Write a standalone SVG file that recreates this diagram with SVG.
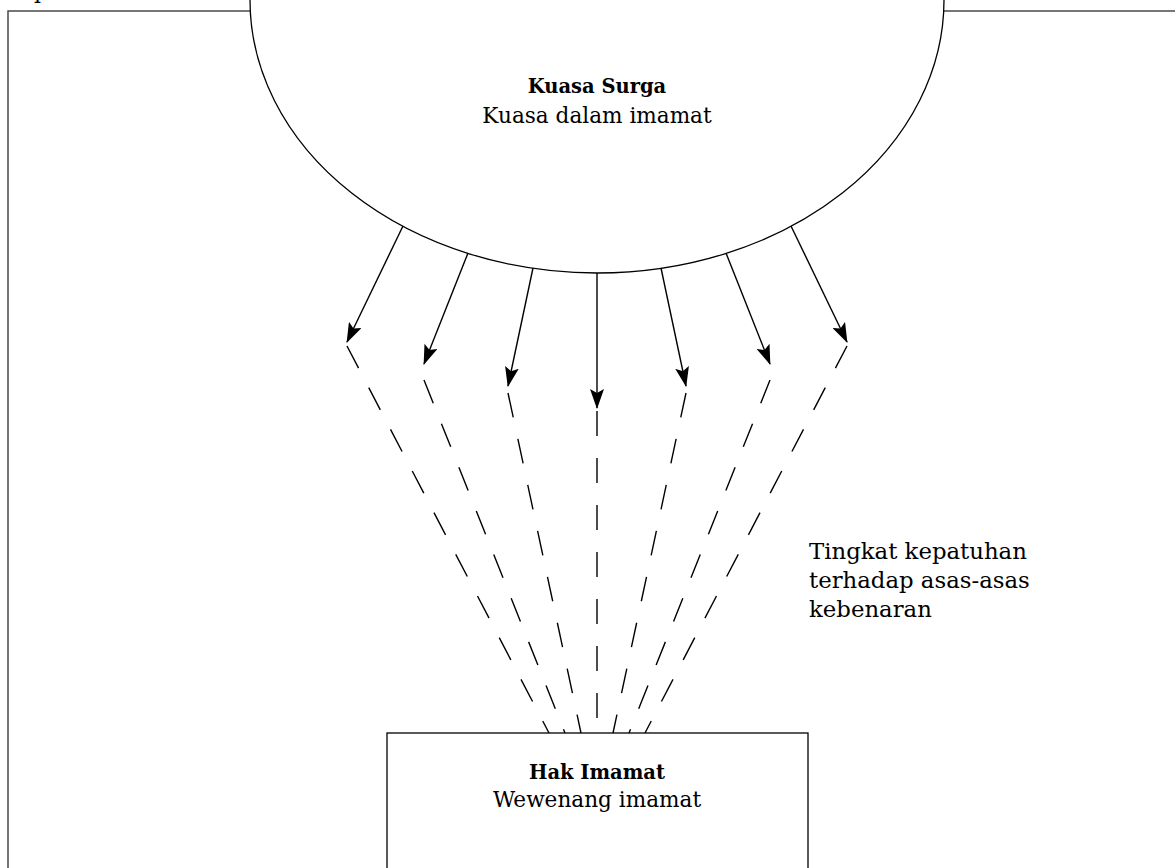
<svg xmlns="http://www.w3.org/2000/svg" width="1175" height="868" viewBox="0 0 1175 868">
  <style>
    .frame { fill: none; stroke: #4a4a4a; stroke-width: 1.5; }
    .node { fill: #ffffff; stroke: #000000; stroke-width: 1.3; }
    .ray { fill: none; stroke: #000000; stroke-width: 1.4; marker-end: url(#head); }
    .dash { fill: none; stroke: #000000; stroke-width: 1.4; stroke-dasharray: 25 22; }
    text { font-family: "DejaVu Serif", "Liberation Serif", serif; fill: #000000; }
    .title { font-weight: bold; font-size: 19.5px; text-anchor: middle; }
    .sub { font-size: 21.6px; text-anchor: middle; }
    .note { font-size: 22.8px; }
  </style>
  <defs>
    <marker id="head" viewBox="0 0 20 14" refX="19" refY="7" markerWidth="20" markerHeight="14" markerUnits="userSpaceOnUse" orient="auto">
      <path d="M0,0 L20,7 L0,14 L4,7 z" fill="#000000"/>
    </marker>
  </defs>

  <rect width="1175" height="868" fill="#ffffff"/>

  <!-- page frame and the clipped line above it -->
  <text x="34" y="-2" style="font-size:22px">p</text>
  <path class="frame" d="M8,868 V11 H1175"/>

  <!-- source of power -->
  <g id="kuasa-surga">
    <ellipse class="node" cx="597" cy="0" rx="347" ry="273"/>
    <text class="title" x="597" y="93">Kuasa Surga</text>
    <text class="sub" x="597" y="123">Kuasa dalam imamat</text>
  </g>

  <!-- priesthood office -->
  <g id="hak-imamat">
    <rect class="node" x="387" y="733" width="421" height="160"/>
    <text class="title" x="597" y="779">Hak Imamat</text>
    <text class="sub" x="597" y="807">Wewenang imamat</text>
  </g>

  <g id="keterangan">
    <text class="note" x="809" y="559">Tingkat kepatuhan</text>
    <text class="note" x="809" y="588">terhadap asas-asas</text>
    <text class="note" x="809" y="617">kebenaran</text>
  </g>

  <g id="connectors">
    <!-- solid rays from the ellipse -->
    <line class="ray" x1="403" y1="226" x2="347" y2="342"/>
    <line class="ray" x1="468" y1="253" x2="424" y2="364"/>
    <line class="ray" x1="533" y1="268" x2="508" y2="386"/>
    <line class="ray" x1="597" y1="273" x2="597" y2="408"/>
    <line class="ray" x1="661" y1="268" x2="686" y2="386"/>
    <line class="ray" x1="726" y1="253" x2="770" y2="364"/>
    <line class="ray" x1="791" y1="226" x2="847" y2="342"/>
    <!-- dashed continuation converging on the box -->
    <line class="dash" x1="347" y1="346" x2="549" y2="733"/>
    <line class="dash" x1="424" y1="380" x2="565" y2="733"/>
    <line class="dash" x1="508" y1="393" x2="581" y2="733"/>
    <line class="dash" x1="597" y1="411" x2="597" y2="733"/>
    <line class="dash" x1="686" y1="393" x2="613" y2="733"/>
    <line class="dash" x1="770" y1="380" x2="629" y2="733"/>
    <line class="dash" x1="847" y1="346" x2="645" y2="733"/>
  </g>
</svg>
